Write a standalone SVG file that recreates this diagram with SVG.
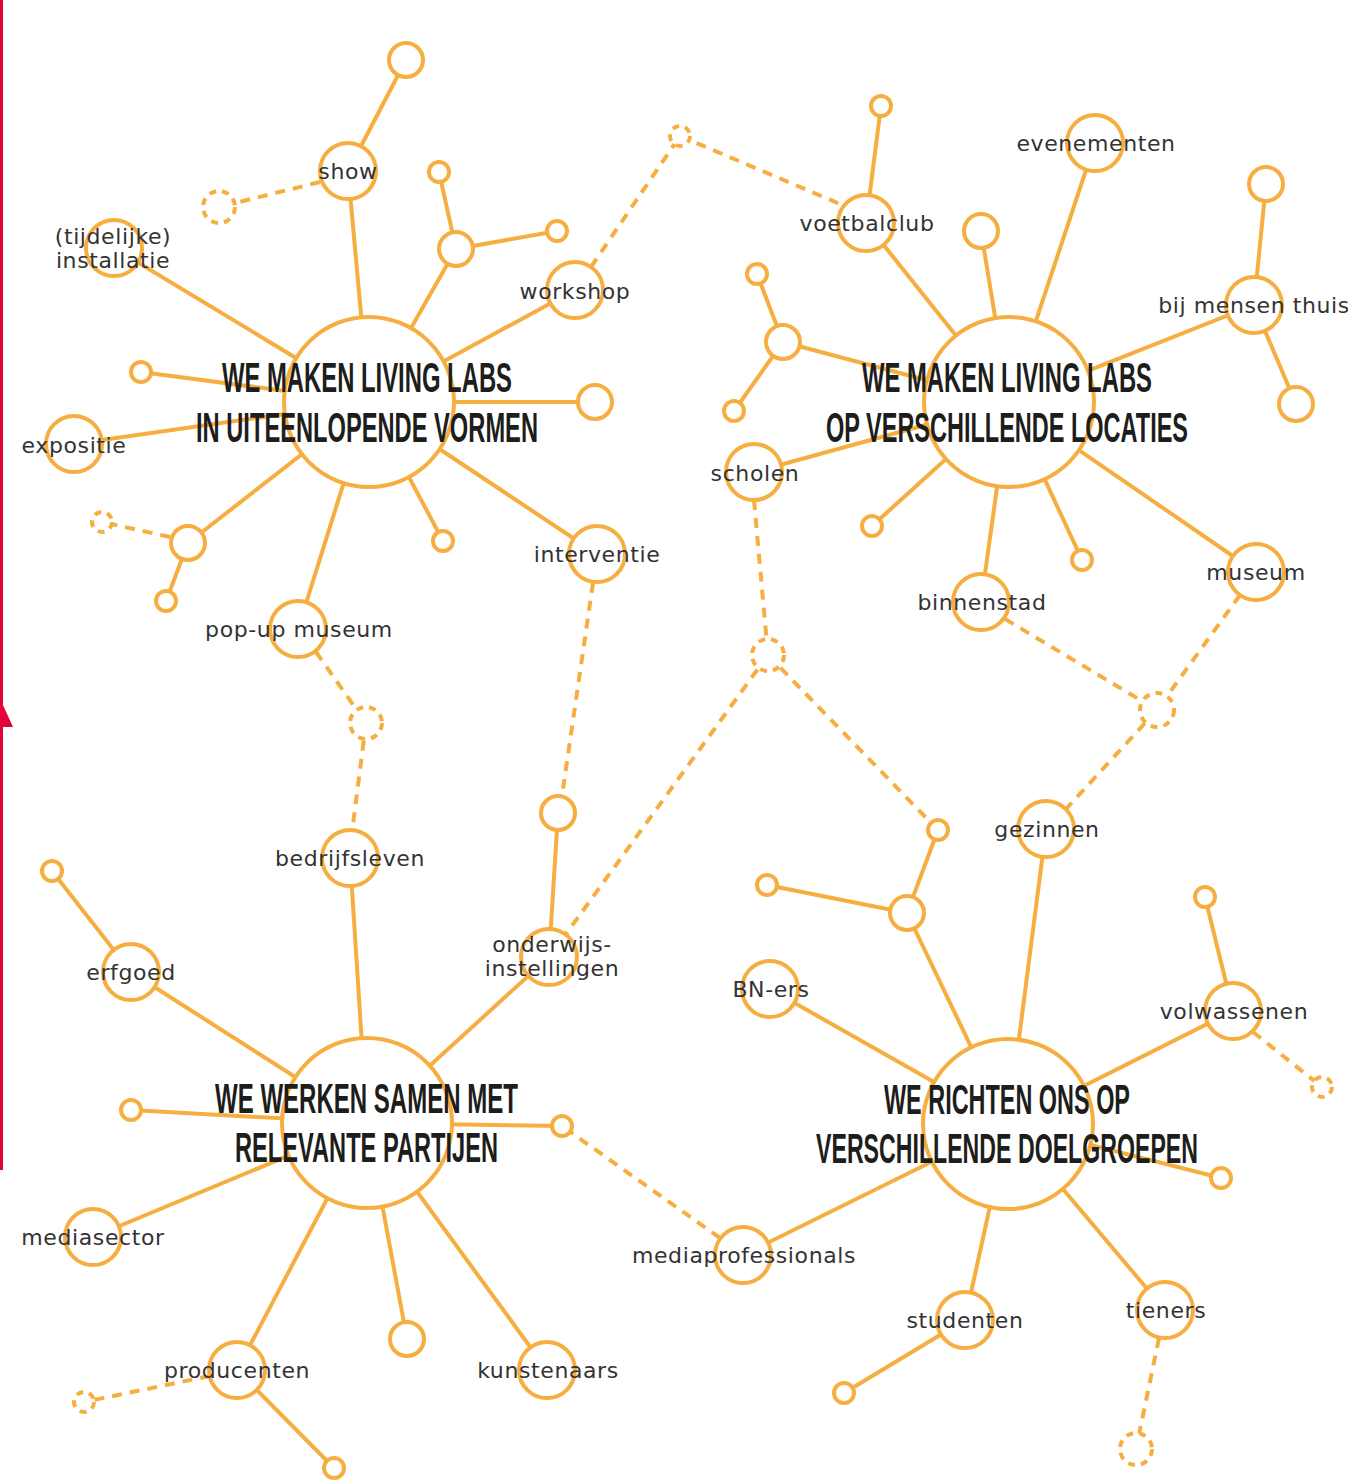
<svg xmlns="http://www.w3.org/2000/svg" width="1348" height="1482" viewBox="0 0 1348 1482">
<style>
.c{stroke:#f6ae40;stroke-width:4;fill:none}
.d{stroke:#f6ae40;stroke-width:4;fill:none;stroke-dasharray:10 8}
.n{stroke:#f6ae40;stroke-width:4;fill:#fff}
.nd{stroke:#f6ae40;stroke-width:4;fill:#fff;stroke-dasharray:7 6}
.t{font-family:"DejaVu Sans",sans-serif;font-size:22px;letter-spacing:0.6px;fill:#333;text-anchor:middle}
.h{font-family:"Liberation Sans",Arial,sans-serif;font-weight:bold;font-size:42px;fill:#1d1d1b;text-anchor:middle}
</style>
<rect width="1348" height="1482" fill="#fff"/>
<g id="side-bar">
<line x1="1.5" y1="0" x2="1.5" y2="1170" stroke="#e4003a" stroke-width="3"/>
<polygon points="2,703 13,727 2,727" fill="#e4003a"/>
</g>
<g id="connectors">
<!-- hub 1 -->
<line class="c" x1="369" y1="402" x2="348" y2="171"/>
<line class="c" x1="348" y1="171" x2="406" y2="60"/>
<line class="d" x1="320" y1="182" x2="219" y2="207"/>
<line class="c" x1="369" y1="402" x2="114" y2="248"/>
<line class="c" x1="369" y1="402" x2="141" y2="372"/>
<line class="c" x1="369" y1="402" x2="74" y2="444"/>
<line class="c" x1="369" y1="402" x2="188" y2="543"/>
<line class="c" x1="188" y1="543" x2="166" y2="601"/>
<line class="d" x1="170" y1="537" x2="102" y2="522"/>
<line class="c" x1="369" y1="402" x2="298" y2="629"/>
<line class="d" x1="316" y1="652" x2="366" y2="723"/>
<line class="d" x1="366" y1="723" x2="352" y2="832"/>
<line class="c" x1="369" y1="402" x2="443" y2="541"/>
<line class="c" x1="369" y1="402" x2="597" y2="554"/>
<line class="d" x1="593" y1="583" x2="562" y2="796"/>
<line class="c" x1="369" y1="402" x2="595" y2="402"/>
<line class="c" x1="369" y1="402" x2="575" y2="290"/>
<line class="d" x1="591" y1="267" x2="680" y2="136"/>
<line class="d" x1="680" y1="136" x2="840" y2="204"/>
<line class="c" x1="369" y1="402" x2="456" y2="249"/>
<line class="c" x1="456" y1="249" x2="439" y2="172"/>
<line class="c" x1="456" y1="249" x2="557" y2="231"/>
<!-- hub 2 -->
<line class="c" x1="1009" y1="402" x2="866" y2="223"/>
<line class="c" x1="866" y1="223" x2="881" y2="106"/>
<line class="c" x1="1009" y1="402" x2="981" y2="231"/>
<line class="c" x1="1009" y1="402" x2="1095" y2="143"/>
<line class="c" x1="1009" y1="402" x2="1254" y2="305"/>
<line class="c" x1="1254" y1="305" x2="1266" y2="184"/>
<line class="c" x1="1254" y1="305" x2="1296" y2="404"/>
<line class="c" x1="1009" y1="402" x2="783" y2="342"/>
<line class="c" x1="783" y1="342" x2="757" y2="274"/>
<line class="c" x1="783" y1="342" x2="734" y2="411"/>
<line class="c" x1="1009" y1="402" x2="754" y2="472"/>
<line class="d" x1="754" y1="500" x2="768" y2="655"/>
<line class="c" x1="1009" y1="402" x2="872" y2="526"/>
<line class="c" x1="1009" y1="402" x2="981" y2="602"/>
<line class="d" x1="1005" y1="619" x2="1157" y2="710"/>
<line class="c" x1="1009" y1="402" x2="1082" y2="560"/>
<line class="c" x1="1009" y1="402" x2="1256" y2="572"/>
<line class="d" x1="1240" y1="595" x2="1157" y2="710"/>
<line class="d" x1="1157" y1="710" x2="1066" y2="809"/>
<line class="d" x1="768" y1="655" x2="566" y2="934"/>
<line class="d" x1="768" y1="655" x2="938" y2="830"/>
<!-- hub 4 -->
<line class="c" x1="1008" y1="1124" x2="1046" y2="829"/>
<line class="c" x1="1008" y1="1124" x2="907" y2="913"/>
<line class="c" x1="907" y1="913" x2="938" y2="830"/>
<line class="c" x1="907" y1="913" x2="767" y2="885"/>
<line class="c" x1="1008" y1="1124" x2="770" y2="989"/>
<line class="c" x1="1008" y1="1124" x2="1233" y2="1011"/>
<line class="c" x1="1233" y1="1011" x2="1205" y2="897"/>
<line class="d" x1="1253" y1="1032" x2="1322" y2="1087"/>
<line class="c" x1="1008" y1="1124" x2="1221" y2="1178"/>
<line class="c" x1="1008" y1="1124" x2="1165" y2="1310"/>
<line class="d" x1="1159" y1="1338" x2="1136" y2="1449"/>
<line class="c" x1="1008" y1="1124" x2="965" y2="1320"/>
<line class="c" x1="965" y1="1320" x2="844" y2="1393"/>
<line class="c" x1="1008" y1="1124" x2="743" y2="1255"/>
<line class="d" x1="720" y1="1238" x2="562" y2="1126"/>
<!-- hub 3 -->
<line class="c" x1="367" y1="1123" x2="350" y2="858"/>
<line class="c" x1="367" y1="1123" x2="131" y2="972"/>
<line class="c" x1="131" y1="972" x2="52" y2="871"/>
<line class="c" x1="367" y1="1123" x2="131" y2="1110"/>
<line class="c" x1="367" y1="1123" x2="93" y2="1237"/>
<line class="c" x1="367" y1="1123" x2="237" y2="1370"/>
<line class="d" x1="210" y1="1376" x2="84" y2="1402"/>
<line class="c" x1="237" y1="1370" x2="334" y2="1468"/>
<line class="c" x1="367" y1="1123" x2="407" y2="1339"/>
<line class="c" x1="367" y1="1123" x2="547" y2="1370"/>
<line class="c" x1="367" y1="1123" x2="549" y2="957"/>
<line class="c" x1="549" y1="957" x2="558" y2="813"/>
<line class="c" x1="367" y1="1123" x2="562" y2="1126"/>
</g>
<!-- small unlabeled nodes -->
<g id="minor-nodes">
<circle class="n" cx="406" cy="60" r="17"/>
<circle class="nd" cx="219" cy="207" r="16"/>
<circle class="n" cx="141" cy="372" r="10"/>
<circle class="n" cx="188" cy="543" r="17"/>
<circle class="n" cx="166" cy="601" r="10"/>
<circle class="nd" cx="102" cy="522" r="10"/>
<circle class="nd" cx="366" cy="723" r="16"/>
<circle class="n" cx="443" cy="541" r="10"/>
<circle class="n" cx="595" cy="402" r="17"/>
<circle class="nd" cx="680" cy="136" r="10"/>
<circle class="n" cx="456" cy="249" r="17"/>
<circle class="n" cx="439" cy="172" r="10"/>
<circle class="n" cx="557" cy="231" r="10"/>
<circle class="n" cx="881" cy="106" r="10"/>
<circle class="n" cx="981" cy="231" r="17"/>
<circle class="n" cx="1266" cy="184" r="17"/>
<circle class="n" cx="1296" cy="404" r="17"/>
<circle class="n" cx="783" cy="342" r="17"/>
<circle class="n" cx="757" cy="274" r="10"/>
<circle class="n" cx="734" cy="411" r="10"/>
<circle class="n" cx="872" cy="526" r="10"/>
<circle class="n" cx="1082" cy="560" r="10"/>
<circle class="nd" cx="768" cy="655" r="16"/>
<circle class="nd" cx="1157" cy="710" r="17"/>
<circle class="n" cx="938" cy="830" r="10"/>
<circle class="n" cx="907" cy="913" r="17"/>
<circle class="n" cx="767" cy="885" r="10"/>
<circle class="n" cx="1205" cy="897" r="10"/>
<circle class="nd" cx="1322" cy="1087" r="10"/>
<circle class="n" cx="1221" cy="1178" r="10"/>
<circle class="nd" cx="1136" cy="1449" r="16"/>
<circle class="n" cx="844" cy="1393" r="10"/>
<circle class="n" cx="562" cy="1126" r="10"/>
<circle class="n" cx="52" cy="871" r="10"/>
<circle class="n" cx="131" cy="1110" r="10"/>
<circle class="nd" cx="84" cy="1402" r="10"/>
<circle class="n" cx="334" cy="1468" r="10"/>
<circle class="n" cx="407" cy="1339" r="17"/>
<circle class="n" cx="558" cy="813" r="17"/>
</g>
<!-- hubs -->
<g id="hub-vormen">
<circle class="n" cx="369" cy="402" r="85"/>
<text class="h" x="367" y="392" textLength="290" lengthAdjust="spacingAndGlyphs">WE MAKEN LIVING LABS</text>
<text class="h" x="367" y="442" textLength="342" lengthAdjust="spacingAndGlyphs">IN UITEENLOPENDE VORMEN</text>
</g>
<g id="hub-locaties">
<circle class="n" cx="1009" cy="402" r="85"/>
<text class="h" x="1007" y="392" textLength="290" lengthAdjust="spacingAndGlyphs">WE MAKEN LIVING LABS</text>
<text class="h" x="1007" y="442" textLength="362" lengthAdjust="spacingAndGlyphs">OP VERSCHILLENDE LOCATIES</text>
</g>
<g id="hub-partijen">
<circle class="n" cx="367" cy="1123" r="85"/>
<text class="h" x="366.5" y="1113" textLength="303" lengthAdjust="spacingAndGlyphs">WE WERKEN SAMEN MET</text>
<text class="h" x="366.5" y="1162" textLength="263" lengthAdjust="spacingAndGlyphs">RELEVANTE PARTIJEN</text>
</g>
<g id="hub-doelgroepen">
<circle class="n" cx="1008" cy="1124" r="85"/>
<text class="h" x="1007" y="1114" textLength="246" lengthAdjust="spacingAndGlyphs">WE RICHTEN ONS OP</text>
<text class="h" x="1007" y="1163" textLength="382" lengthAdjust="spacingAndGlyphs">VERSCHILLENDE DOELGROEPEN</text>
</g>
<!-- labeled nodes -->
<g id="show"><circle class="n" cx="348" cy="171" r="28"/><text class="t" x="348" y="179">show</text></g>
<g id="installatie"><circle class="n" cx="114" cy="248" r="28"/><text class="t" x="113" y="244">(tijdelijke)</text><text class="t" x="113" y="268">installatie</text></g>
<g id="expositie"><circle class="n" cx="74" cy="444" r="28"/><text class="t" x="74" y="453">expositie</text></g>
<g id="popup-museum"><circle class="n" cx="298" cy="629" r="28"/><text class="t" x="299" y="637">pop-up museum</text></g>
<g id="interventie"><circle class="n" cx="597" cy="554" r="28"/><text class="t" x="597" y="562">interventie</text></g>
<g id="workshop"><circle class="n" cx="575" cy="290" r="28"/><text class="t" x="575" y="299">workshop</text></g>
<g id="voetbalclub"><circle class="n" cx="866" cy="223" r="28"/><text class="t" x="867" y="231">voetbalclub</text></g>
<g id="evenementen"><circle class="n" cx="1095" cy="143" r="28"/><text class="t" x="1096" y="151">evenementen</text></g>
<g id="bij-mensen-thuis"><circle class="n" cx="1254" cy="305" r="28"/><text class="t" x="1254" y="313">bij mensen thuis</text></g>
<g id="scholen"><circle class="n" cx="754" cy="472" r="28"/><text class="t" x="755" y="481">scholen</text></g>
<g id="binnenstad"><circle class="n" cx="981" cy="602" r="28"/><text class="t" x="982" y="610">binnenstad</text></g>
<g id="museum"><circle class="n" cx="1256" cy="572" r="28"/><text class="t" x="1256" y="580">museum</text></g>
<g id="gezinnen"><circle class="n" cx="1046" cy="829" r="28"/><text class="t" x="1047" y="837">gezinnen</text></g>
<g id="bn-ers"><circle class="n" cx="770" cy="989" r="28"/><text class="t" x="771" y="997">BN-ers</text></g>
<g id="volwassenen"><circle class="n" cx="1233" cy="1011" r="28"/><text class="t" x="1234" y="1019">volwassenen</text></g>
<g id="tieners"><circle class="n" cx="1165" cy="1310" r="28"/><text class="t" x="1166" y="1318">tieners</text></g>
<g id="studenten"><circle class="n" cx="965" cy="1320" r="28"/><text class="t" x="965" y="1328">studenten</text></g>
<g id="mediaprofessionals"><circle class="n" cx="743" cy="1255" r="28"/><text class="t" x="744" y="1263">mediaprofessionals</text></g>
<g id="bedrijfsleven"><circle class="n" cx="350" cy="858" r="28"/><text class="t" x="350" y="866">bedrijfsleven</text></g>
<g id="erfgoed"><circle class="n" cx="131" cy="972" r="28"/><text class="t" x="131" y="980">erfgoed</text></g>
<g id="mediasector"><circle class="n" cx="93" cy="1237" r="28"/><text class="t" x="93" y="1245">mediasector</text></g>
<g id="producenten"><circle class="n" cx="237" cy="1370" r="28"/><text class="t" x="237" y="1378">producenten</text></g>
<g id="kunstenaars"><circle class="n" cx="547" cy="1370" r="28"/><text class="t" x="548" y="1378">kunstenaars</text></g>
<g id="onderwijsinstellingen"><circle class="n" cx="549" cy="957" r="28"/><text class="t" x="552" y="952">onderwijs-</text><text class="t" x="552" y="976">instellingen</text></g>
</svg>
